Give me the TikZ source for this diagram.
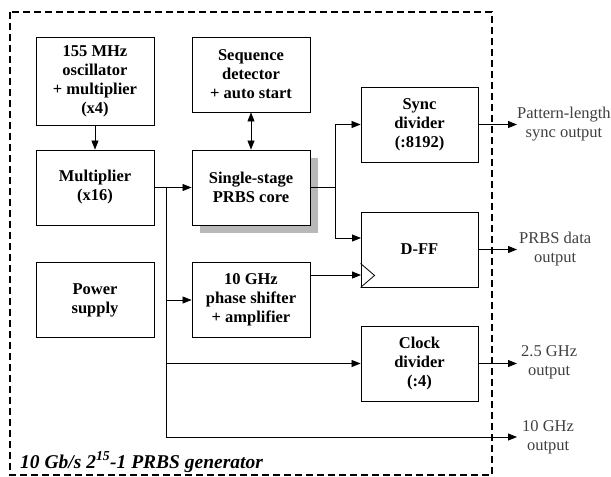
\documentclass[tikz,border=0pt]{standalone}
\usepackage{fontspec}
\setmainfont{Liberation Serif}
\usetikzlibrary{arrows.meta,calc}

\tikzset{
  blk/.style={draw, line width=0.9pt, fill=white, align=center,
    font=\bfseries\fontsize{16.5}{19}\selectfont, inner sep=2pt,
    minimum width=118pt, minimum height=75pt},
  tip/.tip={Triangle[length=9pt,width=7pt]},
  arr/.style={line width=0.8pt, -tip},
  dbl/.style={line width=0.8pt, tip-tip},
  wire/.style={line width=0.8pt},
  outlbl/.style={anchor=west, align=center, text=black!75,
    font=\fontsize{16.5}{19}\selectfont, inner sep=0pt},
  frame/.style={line width=1.3pt, dash pattern=on 7pt off 4pt},
}

\begin{document}
\begin{tikzpicture}[x=1pt,y=-1pt]
\useasboundingbox (0,0) rectangle (611,477);

% enclosure of the generator
\draw[frame] (10,12) rectangle (492,475);
\node[anchor=base west, inner sep=0pt, font=\bfseries\itshape\fontsize{19.5}{21}\selectfont]
  (title) at (20,468) {10 Gb/s 2\textsuperscript{15}-1 PRBS generator};

% drop shadow behind the PRBS core
\fill[black!28] (200,158) rectangle (318,233);

% blocks
\node[blk, minimum height=88pt] (osc) at (95,81) {155 MHz\\oscillator\\+ multiplier\\(x4)};
\node[blk] (seq) at (251,74.5) {Sequence\\detector\\+ auto start};
\node[blk] (mult) at (95,187.5) {Multiplier\\(x16)};
\node[blk] (core) at (251,187.5) {Single-stage\\PRBS core};
\node[blk] (pwr) at (95,300) {Power\\supply};
\node[blk] (phase) at (251,300) {10 GHz\\phase shifter\\+ amplifier};
\node[blk, minimum width=117pt] (sync) at (419.5,124.5) {Sync\\divider\\(:8192)};
\node[blk, minimum width=117pt] (dff) at (419.5,249.5) {D-FF};
\node[blk, minimum width=117pt] (clk) at (419.5,363.5) {Clock\\divider\\(:4)};

% clock input mark of the flip-flop
\draw[line width=0.8pt] ($(dff.south west)+(0,-24)$) -- ++(14,12) -- ++(-14,12);

% junction points and free ends
\coordinate (j1) at (166,187.5);
\coordinate (j2) at (335,187.5);
\coordinate (dffd) at (361,238);
\coordinate (dffck) at (361,275);
\coordinate (osync) at (517,124.5);
\coordinate (odata) at (517,249.5);
\coordinate (oclk) at (517,363.5);
\coordinate (o10) at (517,437);

% connectors
\draw[arr] (osc) -- (mult);
\draw[dbl] (seq) -- (core);
\draw[arr] (mult) -- (core);
\draw[arr] (j1) |- (o10);
\draw[arr] (j1 |- phase.west) -- (phase.west);
\draw[arr] (j1 |- clk.west) -- (clk.west);
\draw[wire] (core.east) -- (j2);
\draw[arr] (j2) |- (sync.west);
\draw[arr] (j2) |- (dffd);
\draw[arr] (phase.east |- dffck) -- (dffck);
\draw[arr] (sync.east) -- (osync);
\draw[arr] (dff.east) -- (odata);
\draw[arr] (clk.east) -- (oclk);

% output labels
\node[outlbl] (lsync) at (517,124) {Pattern-length\\sync output};
\node[outlbl] (ldata) at (519,249) {PRBS data\\output};
\node[outlbl] (lclk) at (521,362) {2.5 GHz\\output};
\node[outlbl] (l10) at (522,437) {10 GHz\\output};
\end{tikzpicture}
\end{document}
